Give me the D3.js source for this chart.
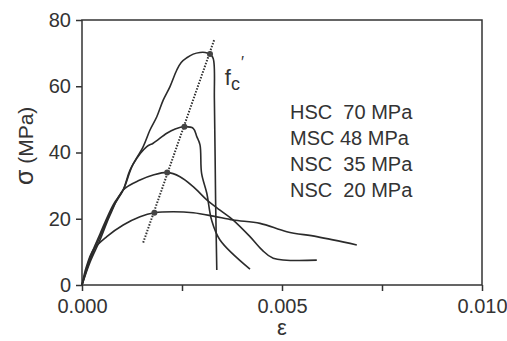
<!DOCTYPE html>
<html>
<head>
<meta charset="utf-8">
<script src="https://cdn.jsdelivr.net/npm/d3@7"></script>
<style>
  body { margin: 0; background: #fff; }
  text { font-family: "Liberation Sans", Arial, sans-serif; fill: #333; }
</style>
</head>
<body>
<script>
// Stress-strain curves, [strain, stress MPa]
var hsc70 = [[0, 0], [0.0002, 7.5], [0.00045, 14.6], [0.00078, 23.6], [0.00103, 28.7],
  [0.0012, 34.7], [0.00153, 41.8], [0.0017, 46.8], [0.00187, 50.8], [0.00203, 55.8],
  [0.0022, 59.9], [0.00237, 64.9], [0.00248, 67.2], [0.00262, 68.6], [0.00278, 69.7],
  [0.00295, 70.2], [0.00308, 70.2], [0.0032, 69.7], [0.00328, 68.4], [0.00331, 55.8],
  [0.00334, 25.7], [0.00337, 4.5]];
var msc48 = [[0, 0], [0.0002, 8.2], [0.00045, 15.4], [0.00078, 24.2], [0.00103, 28.7],
  [0.00128, 36.5], [0.00162, 41.8], [0.00178, 42.8], [0.00212, 45.8], [0.00233, 47.1],
  [0.00256, 47.8], [0.00278, 47.3], [0.00287, 44.8], [0.00295, 42.3], [0.00299, 33.7],
  [0.00312, 27.7], [0.00324, 19.6], [0.00345, 13.6], [0.0042, 4.8]];
var nsc35 = [[0, 0], [0.0002, 6.9], [0.00045, 13.6], [0.0007, 21.1], [0.00103, 28.7],
  [0.00145, 31.7], [0.00178, 33.2], [0.00213, 34.0], [0.00245, 32.7], [0.00278, 29.7],
  [0.00312, 25.7], [0.00345, 22.6], [0.00378, 19.6], [0.0042, 14.6], [0.0045, 10.6],
  [0.00478, 8.1], [0.00587, 7.5]];
var nsc20 = [[0, 0], [0.0001, 5.1], [0.00028, 10.6], [0.00062, 14.6], [0.00103, 18.1],
  [0.00145, 20.6], [0.00181, 21.8], [0.00228, 22.1], [0.00278, 21.8], [0.00328, 20.8],
  [0.00378, 19.6], [0.00445, 18.6], [0.00512, 16.1], [0.00587, 14.6], [0.00687, 12.1]];

// peak points (f'c) and the dotted line through them
var peaks = [[0.0032, 69.7], [0.00256, 47.8], [0.00213, 34.0], [0.00181, 21.8]];
var peakLine = [[0.00153, 12.8], [0.00331, 74.2]];

var legendLabels = ["HSC  70 MPa", "MSC 48 MPa", "NSC  35 MPa", "NSC  20 MPa"];
var xTicks = [0, 0.0025, 0.005, 0.0075, 0.01];
var xLabels = [0, 0.005, 0.01];
var yTicks = [0, 20, 40, 60, 80];

var margin = { top: 20, right: 25, bottom: 56, left: 82 },
  width = 507 - margin.left - margin.right,
  height = 341 - margin.top - margin.bottom;

var x = d3.scaleLinear().domain([0, 0.01]).range([0, width]);
var y = d3.scaleLinear().domain([0, 80]).range([height, 0]);

var line = d3.line()
  .x(function (d) { return x(d[0]); })
  .y(function (d) { return y(d[1]); })
  .curve(d3.curveCatmullRom.alpha(0.5));

var svg = d3.select("body").append("svg")
  .attr("width", 507)
  .attr("height", 341)
  .append("g")
  .attr("transform", "translate(" + margin.left + "," + margin.top + ")");

// frame
svg.append("rect")
  .attr("width", width).attr("height", height)
  .attr("fill", "none").attr("stroke", "#333").attr("stroke-width", 1.5);

// x axis
var xAxis = svg.append("g")
  .attr("transform", "translate(0," + height + ")")
  .call(d3.axisBottom(x).tickValues(xTicks).tickSize(6)
    .tickFormat(function (d) { return xLabels.indexOf(d) >= 0 ? d3.format(".3f")(d) : ""; }));
xAxis.select(".domain").remove();
xAxis.selectAll("line").attr("stroke", "#333").attr("stroke-width", 1.5);
xAxis.selectAll("text").attr("font-size", 20).attr("dy", "0.95em")
  .attr("font-family", "Liberation Sans, Arial, sans-serif").attr("fill", "#333");

// y axis
var yAxis = svg.append("g")
  .call(d3.axisLeft(y).tickValues(yTicks).tickSize(6).tickPadding(5));
yAxis.select(".domain").remove();
yAxis.selectAll("line").attr("stroke", "#333").attr("stroke-width", 1.5);
yAxis.selectAll("text").attr("font-size", 20)
  .attr("font-family", "Liberation Sans, Arial, sans-serif").attr("fill", "#333");

// axis titles
svg.append("text")
  .attr("x", x(0.005)).attr("y", height + 50)
  .attr("text-anchor", "middle").attr("font-size", 22)
  .text("ε");

svg.append("text")
  .attr("transform", "translate(" + (-49) + "," + y(42) + ") rotate(-90)")
  .attr("text-anchor", "middle").attr("font-size", 21)
  .html('<tspan font-size="25">σ</tspan> (MPa)');

// curves
[hsc70, msc48, nsc35, nsc20].forEach(function (d) {
  svg.append("path")
    .attr("d", line(d))
    .attr("fill", "none")
    .attr("stroke", "#2b2b2b")
    .attr("stroke-width", 1.6);
});

// dotted line through peaks
svg.append("path")
  .attr("d", d3.line().x(function (d) { return x(d[0]); }).y(function (d) { return y(d[1]); })(peakLine))
  .attr("fill", "none")
  .attr("stroke", "#333")
  .attr("stroke-width", 2)
  .attr("stroke-dasharray", "1.5,1.5");

svg.selectAll(".peak")
  .data(peaks)
  .enter().append("circle")
  .attr("cx", function (d) { return x(d[0]); })
  .attr("cy", function (d) { return y(d[1]); })
  .attr("r", 3)
  .attr("fill", "#444");

// f'c label
var fc = svg.append("text")
  .attr("x", x(0.00357)).attr("y", y(60.5))
  .attr("font-size", 22);
fc.append("tspan").text("f");
fc.append("tspan").attr("font-size", 18).attr("dy", 5).text("c");
fc.append("tspan").attr("font-size", 16).attr("dx", 1).attr("dy", -22).text("′");

// legend text
svg.selectAll(".legend")
  .data(legendLabels)
  .enter().append("text")
  .attr("x", 208)
  .attr("y", function (d, i) { return 99 + i * 26; })
  .attr("font-size", 20)
  .style("white-space", "pre")
  .text(function (d) { return d; });
</script>
</body>
</html>
